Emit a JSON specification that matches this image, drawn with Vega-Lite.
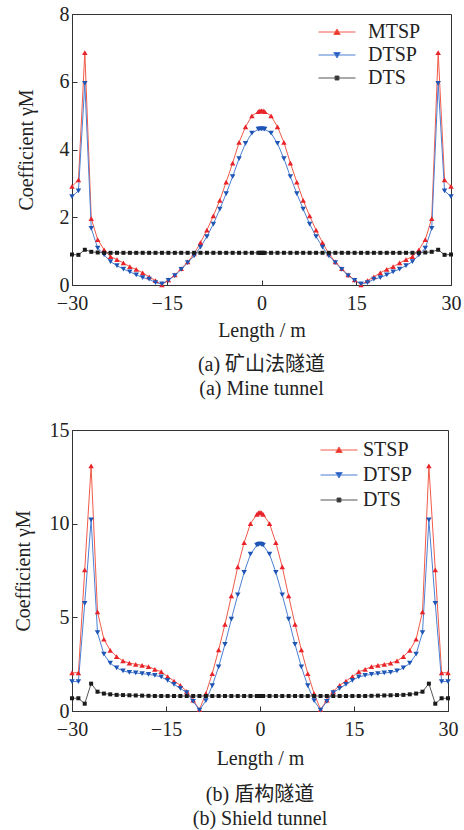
{
"$schema": "https://vega.github.io/schema/vega-lite/v6.json",
"padding": {"left": 12, "top": 3, "right": 5, "bottom": 5},
"config": {
 "view": {"stroke": "#333333", "strokeWidth": 1},
 "font": "Liberation Serif, Noto Sans CJK SC",
 "axis": {"grid": false, "labelFlush": false, "domainColor": "#333333", "tickColor": "#333333", "tickSize": -5, "labelFont": "Liberation Serif", "labelFontSize": 20, "labelColor": "#222222", "labelPadding": 8, "titleFont": "Liberation Serif", "titleFontSize": 20, "titleFontWeight": "normal", "titleColor": "#222222"},
 "axisX": {"labelPadding": 13},
 "legend": {"labelFont": "Liberation Serif", "labelFontSize": 20, "labelColor": "#222222", "padding": 0, "symbolSize": 100, "symbolOpacity": 1, "symbolStrokeWidth": 1},
 "title": {"font": "Liberation Serif, Noto Sans CJK SC", "fontSize": 20, "fontWeight": "normal", "color": "#222222"}
},
"bounds": "flush",
"spacing": 145,
"resolve": {"scale": {"x": "independent", "y": "independent", "stroke": "independent", "fill": "independent", "shape": "independent"}, "legend": {"fill": "independent", "stroke": "independent", "shape": "independent"}},
"datasets": {
 "a": [
  {"x": -30, "s": "MTSP", "y": 2.91}, {"x": -30, "s": "DTSP", "y": 2.61}, {"x": -30, "s": "DTS", "y": 0.9},
  {"x": -28.98, "s": "MTSP", "y": 3.1}, {"x": -28.98, "s": "DTSP", "y": 2.78}, {"x": -28.98, "s": "DTS", "y": 0.89},
  {"x": -27.97, "s": "MTSP", "y": 6.86}, {"x": -27.97, "s": "DTSP", "y": 5.95}, {"x": -27.97, "s": "DTS", "y": 1.04},
  {"x": -26.95, "s": "MTSP", "y": 1.96}, {"x": -26.95, "s": "DTSP", "y": 1.67}, {"x": -26.95, "s": "DTS", "y": 0.98},
  {"x": -25.93, "s": "MTSP", "y": 1.34}, {"x": -25.93, "s": "DTSP", "y": 1.09}, {"x": -25.93, "s": "DTS", "y": 0.96},
  {"x": -24.91, "s": "MTSP", "y": 1.04}, {"x": -24.91, "s": "DTSP", "y": 0.89}, {"x": -24.91, "s": "DTS", "y": 0.95},
  {"x": -23.9, "s": "MTSP", "y": 0.84}, {"x": -23.9, "s": "DTSP", "y": 0.69}, {"x": -23.9, "s": "DTS", "y": 0.95},
  {"x": -22.88, "s": "MTSP", "y": 0.75}, {"x": -22.88, "s": "DTSP", "y": 0.57}, {"x": -22.88, "s": "DTS", "y": 0.95},
  {"x": -21.86, "s": "MTSP", "y": 0.65}, {"x": -21.86, "s": "DTSP", "y": 0.47}, {"x": -21.86, "s": "DTS", "y": 0.95},
  {"x": -20.84, "s": "MTSP", "y": 0.54}, {"x": -20.84, "s": "DTSP", "y": 0.39}, {"x": -20.84, "s": "DTS", "y": 0.95},
  {"x": -19.83, "s": "MTSP", "y": 0.46}, {"x": -19.83, "s": "DTSP", "y": 0.3}, {"x": -19.83, "s": "DTS", "y": 0.95},
  {"x": -18.81, "s": "MTSP", "y": 0.36}, {"x": -18.81, "s": "DTSP", "y": 0.22}, {"x": -18.81, "s": "DTS", "y": 0.95},
  {"x": -17.79, "s": "MTSP", "y": 0.24}, {"x": -17.79, "s": "DTSP", "y": 0.17}, {"x": -17.79, "s": "DTS", "y": 0.95},
  {"x": -16.78, "s": "MTSP", "y": 0.13}, {"x": -16.78, "s": "DTSP", "y": 0.07}, {"x": -16.78, "s": "DTS", "y": 0.95},
  {"x": -15.76, "s": "MTSP", "y": 0.0}, {"x": -15.76, "s": "DTSP", "y": 0.03}, {"x": -15.76, "s": "DTS", "y": 0.95},
  {"x": -14.74, "s": "MTSP", "y": 0.15}, {"x": -14.74, "s": "DTSP", "y": 0.14}, {"x": -14.74, "s": "DTS", "y": 0.95},
  {"x": -13.72, "s": "MTSP", "y": 0.3}, {"x": -13.72, "s": "DTSP", "y": 0.28}, {"x": -13.72, "s": "DTS", "y": 0.95},
  {"x": -12.71, "s": "MTSP", "y": 0.48}, {"x": -12.71, "s": "DTSP", "y": 0.46}, {"x": -12.71, "s": "DTS", "y": 0.95},
  {"x": -11.69, "s": "MTSP", "y": 0.68}, {"x": -11.69, "s": "DTSP", "y": 0.66}, {"x": -11.69, "s": "DTS", "y": 0.95},
  {"x": -10.67, "s": "MTSP", "y": 0.92}, {"x": -10.67, "s": "DTSP", "y": 0.86}, {"x": -10.67, "s": "DTS", "y": 0.95},
  {"x": -9.66, "s": "MTSP", "y": 1.25}, {"x": -9.66, "s": "DTSP", "y": 1.12}, {"x": -9.66, "s": "DTS", "y": 0.95},
  {"x": -8.64, "s": "MTSP", "y": 1.62}, {"x": -8.64, "s": "DTSP", "y": 1.43}, {"x": -8.64, "s": "DTS", "y": 0.95},
  {"x": -7.62, "s": "MTSP", "y": 2.04}, {"x": -7.62, "s": "DTSP", "y": 1.8}, {"x": -7.62, "s": "DTS", "y": 0.95},
  {"x": -6.6, "s": "MTSP", "y": 2.5}, {"x": -6.6, "s": "DTSP", "y": 2.24}, {"x": -6.6, "s": "DTS", "y": 0.95},
  {"x": -5.59, "s": "MTSP", "y": 3.04}, {"x": -5.59, "s": "DTSP", "y": 2.7}, {"x": -5.59, "s": "DTS", "y": 0.95},
  {"x": -4.57, "s": "MTSP", "y": 3.6}, {"x": -4.57, "s": "DTSP", "y": 3.2}, {"x": -4.57, "s": "DTS", "y": 0.95},
  {"x": -3.55, "s": "MTSP", "y": 4.21}, {"x": -3.55, "s": "DTSP", "y": 3.73}, {"x": -3.55, "s": "DTS", "y": 0.95},
  {"x": -2.53, "s": "MTSP", "y": 4.67}, {"x": -2.53, "s": "DTSP", "y": 4.18}, {"x": -2.53, "s": "DTS", "y": 0.95},
  {"x": -1.52, "s": "MTSP", "y": 4.99}, {"x": -1.52, "s": "DTSP", "y": 4.48}, {"x": -1.52, "s": "DTS", "y": 0.95},
  {"x": -0.5, "s": "MTSP", "y": 5.12}, {"x": -0.5, "s": "DTSP", "y": 4.6}, {"x": -0.5, "s": "DTS", "y": 0.95},
  {"x": -0.25, "s": "MTSP", "y": 5.14}, {"x": -0.25, "s": "DTSP", "y": 4.61}, {"x": -0.25, "s": "DTS", "y": 0.95},
  {"x": 0, "s": "MTSP", "y": 5.14}, {"x": 0, "s": "DTSP", "y": 4.61}, {"x": 0, "s": "DTS", "y": 0.95},
  {"x": 0.25, "s": "MTSP", "y": 5.14}, {"x": 0.25, "s": "DTSP", "y": 4.61}, {"x": 0.25, "s": "DTS", "y": 0.95},
  {"x": 0.5, "s": "MTSP", "y": 5.12}, {"x": 0.5, "s": "DTSP", "y": 4.6}, {"x": 0.5, "s": "DTS", "y": 0.95},
  {"x": 1.52, "s": "MTSP", "y": 4.99}, {"x": 1.52, "s": "DTSP", "y": 4.48}, {"x": 1.52, "s": "DTS", "y": 0.95},
  {"x": 2.53, "s": "MTSP", "y": 4.67}, {"x": 2.53, "s": "DTSP", "y": 4.18}, {"x": 2.53, "s": "DTS", "y": 0.95},
  {"x": 3.55, "s": "MTSP", "y": 4.21}, {"x": 3.55, "s": "DTSP", "y": 3.73}, {"x": 3.55, "s": "DTS", "y": 0.95},
  {"x": 4.57, "s": "MTSP", "y": 3.6}, {"x": 4.57, "s": "DTSP", "y": 3.2}, {"x": 4.57, "s": "DTS", "y": 0.95},
  {"x": 5.59, "s": "MTSP", "y": 3.04}, {"x": 5.59, "s": "DTSP", "y": 2.7}, {"x": 5.59, "s": "DTS", "y": 0.95},
  {"x": 6.6, "s": "MTSP", "y": 2.5}, {"x": 6.6, "s": "DTSP", "y": 2.24}, {"x": 6.6, "s": "DTS", "y": 0.95},
  {"x": 7.62, "s": "MTSP", "y": 2.04}, {"x": 7.62, "s": "DTSP", "y": 1.8}, {"x": 7.62, "s": "DTS", "y": 0.95},
  {"x": 8.64, "s": "MTSP", "y": 1.62}, {"x": 8.64, "s": "DTSP", "y": 1.43}, {"x": 8.64, "s": "DTS", "y": 0.95},
  {"x": 9.66, "s": "MTSP", "y": 1.25}, {"x": 9.66, "s": "DTSP", "y": 1.12}, {"x": 9.66, "s": "DTS", "y": 0.95},
  {"x": 10.67, "s": "MTSP", "y": 0.92}, {"x": 10.67, "s": "DTSP", "y": 0.86}, {"x": 10.67, "s": "DTS", "y": 0.95},
  {"x": 11.69, "s": "MTSP", "y": 0.68}, {"x": 11.69, "s": "DTSP", "y": 0.66}, {"x": 11.69, "s": "DTS", "y": 0.95},
  {"x": 12.71, "s": "MTSP", "y": 0.48}, {"x": 12.71, "s": "DTSP", "y": 0.46}, {"x": 12.71, "s": "DTS", "y": 0.95},
  {"x": 13.72, "s": "MTSP", "y": 0.3}, {"x": 13.72, "s": "DTSP", "y": 0.28}, {"x": 13.72, "s": "DTS", "y": 0.95},
  {"x": 14.74, "s": "MTSP", "y": 0.15}, {"x": 14.74, "s": "DTSP", "y": 0.14}, {"x": 14.74, "s": "DTS", "y": 0.95},
  {"x": 15.76, "s": "MTSP", "y": 0.0}, {"x": 15.76, "s": "DTSP", "y": 0.03}, {"x": 15.76, "s": "DTS", "y": 0.95},
  {"x": 16.78, "s": "MTSP", "y": 0.13}, {"x": 16.78, "s": "DTSP", "y": 0.07}, {"x": 16.78, "s": "DTS", "y": 0.95},
  {"x": 17.79, "s": "MTSP", "y": 0.24}, {"x": 17.79, "s": "DTSP", "y": 0.17}, {"x": 17.79, "s": "DTS", "y": 0.95},
  {"x": 18.81, "s": "MTSP", "y": 0.36}, {"x": 18.81, "s": "DTSP", "y": 0.22}, {"x": 18.81, "s": "DTS", "y": 0.95},
  {"x": 19.83, "s": "MTSP", "y": 0.46}, {"x": 19.83, "s": "DTSP", "y": 0.3}, {"x": 19.83, "s": "DTS", "y": 0.95},
  {"x": 20.84, "s": "MTSP", "y": 0.54}, {"x": 20.84, "s": "DTSP", "y": 0.39}, {"x": 20.84, "s": "DTS", "y": 0.95},
  {"x": 21.86, "s": "MTSP", "y": 0.65}, {"x": 21.86, "s": "DTSP", "y": 0.47}, {"x": 21.86, "s": "DTS", "y": 0.95},
  {"x": 22.88, "s": "MTSP", "y": 0.75}, {"x": 22.88, "s": "DTSP", "y": 0.57}, {"x": 22.88, "s": "DTS", "y": 0.95},
  {"x": 23.9, "s": "MTSP", "y": 0.84}, {"x": 23.9, "s": "DTSP", "y": 0.69}, {"x": 23.9, "s": "DTS", "y": 0.95},
  {"x": 24.91, "s": "MTSP", "y": 1.04}, {"x": 24.91, "s": "DTSP", "y": 0.89}, {"x": 24.91, "s": "DTS", "y": 0.95},
  {"x": 25.93, "s": "MTSP", "y": 1.34}, {"x": 25.93, "s": "DTSP", "y": 1.09}, {"x": 25.93, "s": "DTS", "y": 0.96},
  {"x": 26.95, "s": "MTSP", "y": 1.96}, {"x": 26.95, "s": "DTSP", "y": 1.67}, {"x": 26.95, "s": "DTS", "y": 0.98},
  {"x": 27.97, "s": "MTSP", "y": 6.86}, {"x": 27.97, "s": "DTSP", "y": 5.95}, {"x": 27.97, "s": "DTS", "y": 1.04},
  {"x": 28.98, "s": "MTSP", "y": 3.1}, {"x": 28.98, "s": "DTSP", "y": 2.78}, {"x": 28.98, "s": "DTS", "y": 0.89},
  {"x": 30, "s": "MTSP", "y": 2.91}, {"x": 30, "s": "DTSP", "y": 2.61}, {"x": 30, "s": "DTS", "y": 0.9}
 ],
 "b": [
  {"x": -30, "s": "STSP", "y": 2.04}, {"x": -30, "s": "DTSP", "y": 1.57}, {"x": -30, "s": "DTS", "y": 0.68},
  {"x": -28.98, "s": "STSP", "y": 2.04}, {"x": -28.98, "s": "DTSP", "y": 1.57}, {"x": -28.98, "s": "DTS", "y": 0.68},
  {"x": -27.97, "s": "STSP", "y": 7.53}, {"x": -27.97, "s": "DTSP", "y": 5.75}, {"x": -27.97, "s": "DTS", "y": 0.39},
  {"x": -26.95, "s": "STSP", "y": 13.08}, {"x": -26.95, "s": "DTSP", "y": 10.2}, {"x": -26.95, "s": "DTS", "y": 1.46},
  {"x": -25.93, "s": "STSP", "y": 5.29}, {"x": -25.93, "s": "DTSP", "y": 4.18}, {"x": -25.93, "s": "DTS", "y": 1.03},
  {"x": -24.91, "s": "STSP", "y": 3.83}, {"x": -24.91, "s": "DTSP", "y": 3.03}, {"x": -24.91, "s": "DTS", "y": 0.93},
  {"x": -23.9, "s": "STSP", "y": 3.24}, {"x": -23.9, "s": "DTSP", "y": 2.55}, {"x": -23.9, "s": "DTS", "y": 0.89},
  {"x": -22.88, "s": "STSP", "y": 2.9}, {"x": -22.88, "s": "DTSP", "y": 2.3}, {"x": -22.88, "s": "DTS", "y": 0.86},
  {"x": -21.86, "s": "STSP", "y": 2.67}, {"x": -21.86, "s": "DTSP", "y": 2.14}, {"x": -21.86, "s": "DTS", "y": 0.85},
  {"x": -20.84, "s": "STSP", "y": 2.56}, {"x": -20.84, "s": "DTSP", "y": 2.06}, {"x": -20.84, "s": "DTS", "y": 0.84},
  {"x": -19.83, "s": "STSP", "y": 2.49}, {"x": -19.83, "s": "DTSP", "y": 2.03}, {"x": -19.83, "s": "DTS", "y": 0.83},
  {"x": -18.81, "s": "STSP", "y": 2.44}, {"x": -18.81, "s": "DTSP", "y": 1.99}, {"x": -18.81, "s": "DTS", "y": 0.82},
  {"x": -17.79, "s": "STSP", "y": 2.37}, {"x": -17.79, "s": "DTSP", "y": 1.96}, {"x": -17.79, "s": "DTS", "y": 0.81},
  {"x": -16.78, "s": "STSP", "y": 2.22}, {"x": -16.78, "s": "DTSP", "y": 1.9}, {"x": -16.78, "s": "DTS", "y": 0.8},
  {"x": -15.76, "s": "STSP", "y": 2.1}, {"x": -15.76, "s": "DTSP", "y": 1.82}, {"x": -15.76, "s": "DTS", "y": 0.8},
  {"x": -14.74, "s": "STSP", "y": 1.83}, {"x": -14.74, "s": "DTSP", "y": 1.64}, {"x": -14.74, "s": "DTS", "y": 0.8},
  {"x": -13.72, "s": "STSP", "y": 1.6}, {"x": -13.72, "s": "DTSP", "y": 1.42}, {"x": -13.72, "s": "DTS", "y": 0.8},
  {"x": -12.71, "s": "STSP", "y": 1.37}, {"x": -12.71, "s": "DTSP", "y": 1.21}, {"x": -12.71, "s": "DTS", "y": 0.8},
  {"x": -11.69, "s": "STSP", "y": 1.05}, {"x": -11.69, "s": "DTSP", "y": 0.98}, {"x": -11.69, "s": "DTS", "y": 0.8},
  {"x": -10.67, "s": "STSP", "y": 0.58}, {"x": -10.67, "s": "DTSP", "y": 0.52}, {"x": -10.67, "s": "DTS", "y": 0.8},
  {"x": -9.66, "s": "STSP", "y": 0.08}, {"x": -9.66, "s": "DTSP", "y": 0.05}, {"x": -9.66, "s": "DTS", "y": 0.8},
  {"x": -8.64, "s": "STSP", "y": 0.93}, {"x": -8.64, "s": "DTSP", "y": 0.55}, {"x": -8.64, "s": "DTS", "y": 0.8},
  {"x": -7.62, "s": "STSP", "y": 2.0}, {"x": -7.62, "s": "DTSP", "y": 1.35}, {"x": -7.62, "s": "DTS", "y": 0.8},
  {"x": -6.6, "s": "STSP", "y": 3.26}, {"x": -6.6, "s": "DTSP", "y": 2.35}, {"x": -6.6, "s": "DTS", "y": 0.8},
  {"x": -5.59, "s": "STSP", "y": 4.63}, {"x": -5.59, "s": "DTSP", "y": 3.56}, {"x": -5.59, "s": "DTS", "y": 0.8},
  {"x": -4.57, "s": "STSP", "y": 6.14}, {"x": -4.57, "s": "DTSP", "y": 4.9}, {"x": -4.57, "s": "DTS", "y": 0.8},
  {"x": -3.55, "s": "STSP", "y": 7.69}, {"x": -3.55, "s": "DTSP", "y": 6.2}, {"x": -3.55, "s": "DTS", "y": 0.8},
  {"x": -2.53, "s": "STSP", "y": 8.99}, {"x": -2.53, "s": "DTSP", "y": 7.4}, {"x": -2.53, "s": "DTS", "y": 0.8},
  {"x": -1.52, "s": "STSP", "y": 10.0}, {"x": -1.52, "s": "DTSP", "y": 8.37}, {"x": -1.52, "s": "DTS", "y": 0.8},
  {"x": -0.5, "s": "STSP", "y": 10.5}, {"x": -0.5, "s": "DTSP", "y": 8.85}, {"x": -0.5, "s": "DTS", "y": 0.8},
  {"x": -0.25, "s": "STSP", "y": 10.58}, {"x": -0.25, "s": "DTSP", "y": 8.9}, {"x": -0.25, "s": "DTS", "y": 0.8},
  {"x": 0, "s": "STSP", "y": 10.6}, {"x": 0, "s": "DTSP", "y": 8.92}, {"x": 0, "s": "DTS", "y": 0.8},
  {"x": 0.25, "s": "STSP", "y": 10.58}, {"x": 0.25, "s": "DTSP", "y": 8.9}, {"x": 0.25, "s": "DTS", "y": 0.8},
  {"x": 0.5, "s": "STSP", "y": 10.5}, {"x": 0.5, "s": "DTSP", "y": 8.85}, {"x": 0.5, "s": "DTS", "y": 0.8},
  {"x": 1.52, "s": "STSP", "y": 10.0}, {"x": 1.52, "s": "DTSP", "y": 8.37}, {"x": 1.52, "s": "DTS", "y": 0.8},
  {"x": 2.53, "s": "STSP", "y": 8.99}, {"x": 2.53, "s": "DTSP", "y": 7.4}, {"x": 2.53, "s": "DTS", "y": 0.8},
  {"x": 3.55, "s": "STSP", "y": 7.69}, {"x": 3.55, "s": "DTSP", "y": 6.2}, {"x": 3.55, "s": "DTS", "y": 0.8},
  {"x": 4.57, "s": "STSP", "y": 6.14}, {"x": 4.57, "s": "DTSP", "y": 4.9}, {"x": 4.57, "s": "DTS", "y": 0.8},
  {"x": 5.59, "s": "STSP", "y": 4.63}, {"x": 5.59, "s": "DTSP", "y": 3.56}, {"x": 5.59, "s": "DTS", "y": 0.8},
  {"x": 6.6, "s": "STSP", "y": 3.26}, {"x": 6.6, "s": "DTSP", "y": 2.35}, {"x": 6.6, "s": "DTS", "y": 0.8},
  {"x": 7.62, "s": "STSP", "y": 2.0}, {"x": 7.62, "s": "DTSP", "y": 1.35}, {"x": 7.62, "s": "DTS", "y": 0.8},
  {"x": 8.64, "s": "STSP", "y": 0.93}, {"x": 8.64, "s": "DTSP", "y": 0.55}, {"x": 8.64, "s": "DTS", "y": 0.8},
  {"x": 9.66, "s": "STSP", "y": 0.08}, {"x": 9.66, "s": "DTSP", "y": 0.05}, {"x": 9.66, "s": "DTS", "y": 0.8},
  {"x": 10.67, "s": "STSP", "y": 0.58}, {"x": 10.67, "s": "DTSP", "y": 0.52}, {"x": 10.67, "s": "DTS", "y": 0.8},
  {"x": 11.69, "s": "STSP", "y": 1.05}, {"x": 11.69, "s": "DTSP", "y": 0.98}, {"x": 11.69, "s": "DTS", "y": 0.8},
  {"x": 12.71, "s": "STSP", "y": 1.37}, {"x": 12.71, "s": "DTSP", "y": 1.21}, {"x": 12.71, "s": "DTS", "y": 0.8},
  {"x": 13.72, "s": "STSP", "y": 1.6}, {"x": 13.72, "s": "DTSP", "y": 1.42}, {"x": 13.72, "s": "DTS", "y": 0.8},
  {"x": 14.74, "s": "STSP", "y": 1.83}, {"x": 14.74, "s": "DTSP", "y": 1.64}, {"x": 14.74, "s": "DTS", "y": 0.8},
  {"x": 15.76, "s": "STSP", "y": 2.1}, {"x": 15.76, "s": "DTSP", "y": 1.82}, {"x": 15.76, "s": "DTS", "y": 0.8},
  {"x": 16.78, "s": "STSP", "y": 2.22}, {"x": 16.78, "s": "DTSP", "y": 1.9}, {"x": 16.78, "s": "DTS", "y": 0.8},
  {"x": 17.79, "s": "STSP", "y": 2.37}, {"x": 17.79, "s": "DTSP", "y": 1.96}, {"x": 17.79, "s": "DTS", "y": 0.81},
  {"x": 18.81, "s": "STSP", "y": 2.44}, {"x": 18.81, "s": "DTSP", "y": 1.99}, {"x": 18.81, "s": "DTS", "y": 0.82},
  {"x": 19.83, "s": "STSP", "y": 2.49}, {"x": 19.83, "s": "DTSP", "y": 2.03}, {"x": 19.83, "s": "DTS", "y": 0.83},
  {"x": 20.84, "s": "STSP", "y": 2.56}, {"x": 20.84, "s": "DTSP", "y": 2.06}, {"x": 20.84, "s": "DTS", "y": 0.84},
  {"x": 21.86, "s": "STSP", "y": 2.67}, {"x": 21.86, "s": "DTSP", "y": 2.14}, {"x": 21.86, "s": "DTS", "y": 0.85},
  {"x": 22.88, "s": "STSP", "y": 2.9}, {"x": 22.88, "s": "DTSP", "y": 2.3}, {"x": 22.88, "s": "DTS", "y": 0.86},
  {"x": 23.9, "s": "STSP", "y": 3.24}, {"x": 23.9, "s": "DTSP", "y": 2.55}, {"x": 23.9, "s": "DTS", "y": 0.89},
  {"x": 24.91, "s": "STSP", "y": 3.83}, {"x": 24.91, "s": "DTSP", "y": 3.03}, {"x": 24.91, "s": "DTS", "y": 0.93},
  {"x": 25.93, "s": "STSP", "y": 5.29}, {"x": 25.93, "s": "DTSP", "y": 4.18}, {"x": 25.93, "s": "DTS", "y": 1.03},
  {"x": 26.95, "s": "STSP", "y": 13.08}, {"x": 26.95, "s": "DTSP", "y": 10.2}, {"x": 26.95, "s": "DTS", "y": 1.46},
  {"x": 27.97, "s": "STSP", "y": 7.53}, {"x": 27.97, "s": "DTSP", "y": 5.75}, {"x": 27.97, "s": "DTS", "y": 0.39},
  {"x": 28.98, "s": "STSP", "y": 2.04}, {"x": 28.98, "s": "DTSP", "y": 1.57}, {"x": 28.98, "s": "DTS", "y": 0.68},
  {"x": 30, "s": "STSP", "y": 2.04}, {"x": 30, "s": "DTSP", "y": 1.57}, {"x": 30, "s": "DTS", "y": 0.68}
 ]
},
"vconcat": [
 {
  "width": 379, "height": 271,
  "data": {"name": "a"},
  "title": {"text": ["(a) 矿山法隧道", "(a) Mine tunnel"], "orient": "bottom", "anchor": "middle", "frame": "group", "offset": 15, "lineHeight": 24},
  "encoding": {
   "x": {"field": "x", "type": "quantitative", "scale": {"domain": [-30, 30], "nice": false}, "axis": {"values": [-30, -15, 0, 15, 30], "title": "Length / m", "titlePadding": 7}},
   "y": {"field": "y", "type": "quantitative", "scale": {"domain": [0, 8], "nice": false}, "axis": {"values": [0, 2, 4, 6, 8], "title": "Coefficient  γM", "titlePadding": 23}}
  },
  "layer": [
   {"transform": [{"filter": {"field": "s", "equal": "MTSP"}}], "mark": {"type": "line", "stroke": "#f25a48", "strokeWidth": 1}, "encoding": {}},
   {"transform": [{"filter": {"field": "s", "equal": "DTSP"}}], "mark": {"type": "line", "stroke": "#4d7fd3", "strokeWidth": 1}, "encoding": {}},
   {"transform": [{"filter": {"field": "s", "equal": "DTS"}}], "mark": {"type": "line", "stroke": "#555555", "strokeWidth": 1}, "encoding": {}},
   {"transform": [{"filter": {"field": "s", "equal": "MTSP"}}], "mark": {"type": "point", "shape": "triangle-up", "filled": true, "fill": "#e8232a", "opacity": 1, "size": 30}, "encoding": {}},
   {"transform": [{"filter": {"field": "s", "equal": "DTSP"}}], "mark": {"type": "point", "shape": "triangle-down", "filled": true, "fill": "#1f55b5", "opacity": 1, "size": 30}, "encoding": {}},
   {"transform": [{"filter": {"field": "s", "equal": "DTS"}}], "mark": {"type": "point", "shape": "square", "filled": true, "fill": "#1a1a1a", "opacity": 1, "size": 16}, "encoding": {}},
   {"mark": {"type": "point", "filled": true, "opacity": 0},
    "encoding": {
     "fill": {"field": "s", "type": "nominal", "scale": {"domain": ["MTSP", "DTSP", "DTS"], "range": ["#e8232a", "#1f55b5", "#1a1a1a"]},
      "legend": {"orient": "none", "legendX": 255, "legendY": 8, "title": null, "labelOffset": 21, "rowPadding": 3, "symbolOpacity": 1, "symbolStrokeWidth": 1}},
     "stroke": {"field": "s", "type": "nominal", "scale": {"domain": ["MTSP", "DTSP", "DTS"], "range": ["#f25a48", "#4d7fd3", "#555555"]}},
     "shape": {"field": "s", "type": "nominal", "scale": {"domain": ["MTSP", "DTSP", "DTS"], "range": ["M-3.7,0H3.7M0,-0.6L0.65,0.5H-0.65Z", "M-3.7,0H3.7M0,0.6L0.65,-0.5H-0.65Z", "M-3.7,0H3.7M-0.4,-0.4H0.4V0.4H-0.4Z"]}}
    }}
  ]
 },
 {
  "width": 376, "height": 281,
  "data": {"name": "b"},
  "title": {"text": ["(b) 盾构隧道", "(b) Shield tunnel"], "orient": "bottom", "anchor": "middle", "frame": "group", "offset": 17, "lineHeight": 24},
  "encoding": {
   "x": {"field": "x", "type": "quantitative", "scale": {"domain": [-30, 30], "nice": false}, "axis": {"values": [-30, -15, 0, 15, 30], "title": "Length / m", "titlePadding": 9}},
   "y": {"field": "y", "type": "quantitative", "scale": {"domain": [0, 15], "nice": false}, "axis": {"values": [0, 5, 10, 15], "title": "Coefficient  γM", "titlePadding": 16}}
  },
  "layer": [
   {"transform": [{"filter": {"field": "s", "equal": "STSP"}}], "mark": {"type": "line", "stroke": "#f25a48", "strokeWidth": 1}, "encoding": {}},
   {"transform": [{"filter": {"field": "s", "equal": "DTSP"}}], "mark": {"type": "line", "stroke": "#4d7fd3", "strokeWidth": 1}, "encoding": {}},
   {"transform": [{"filter": {"field": "s", "equal": "DTS"}}], "mark": {"type": "line", "stroke": "#555555", "strokeWidth": 1}, "encoding": {}},
   {"transform": [{"filter": {"field": "s", "equal": "STSP"}}], "mark": {"type": "point", "shape": "triangle-up", "filled": true, "fill": "#e8232a", "opacity": 1, "size": 30}, "encoding": {}},
   {"transform": [{"filter": {"field": "s", "equal": "DTSP"}}], "mark": {"type": "point", "shape": "triangle-down", "filled": true, "fill": "#1f55b5", "opacity": 1, "size": 30}, "encoding": {}},
   {"transform": [{"filter": {"field": "s", "equal": "DTS"}}], "mark": {"type": "point", "shape": "square", "filled": true, "fill": "#1a1a1a", "opacity": 1, "size": 16}, "encoding": {}},
   {"mark": {"type": "point", "filled": true, "opacity": 0},
    "encoding": {
     "fill": {"field": "s", "type": "nominal", "scale": {"domain": ["STSP", "DTSP", "DTS"], "range": ["#e8232a", "#1f55b5", "#1a1a1a"]},
      "legend": {"orient": "none", "legendX": 257, "legendY": 10, "title": null, "labelOffset": 14, "rowPadding": 5, "symbolOpacity": 1, "symbolStrokeWidth": 1}},
     "stroke": {"field": "s", "type": "nominal", "scale": {"domain": ["STSP", "DTSP", "DTS"], "range": ["#f25a48", "#4d7fd3", "#555555"]}},
     "shape": {"field": "s", "type": "nominal", "scale": {"domain": ["STSP", "DTSP", "DTS"], "range": ["M-3.7,0H3.7M0,-0.6L0.65,0.5H-0.65Z", "M-3.7,0H3.7M0,0.6L0.65,-0.5H-0.65Z", "M-3.7,0H3.7M-0.4,-0.4H0.4V0.4H-0.4Z"]}}
    }}
  ]
 }
]
}
